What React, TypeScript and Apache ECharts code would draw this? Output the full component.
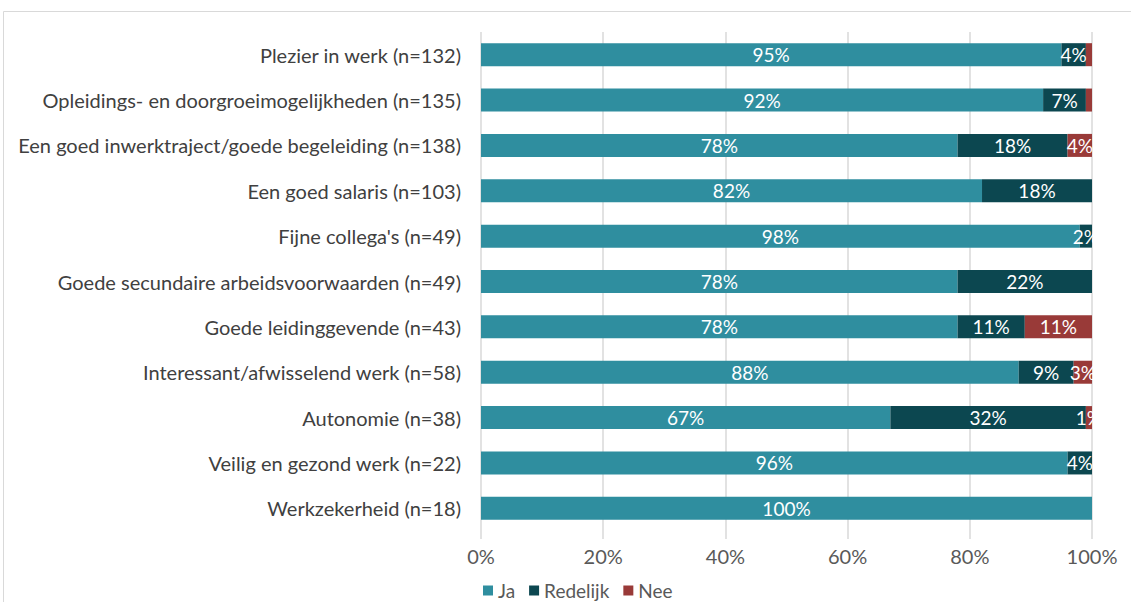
import React, { useEffect, useRef } from "react";
import * as echarts from "echarts";

const categories = [
  "Plezier in werk (n=132)",
  "Opleidings- en doorgroeimogelijkheden (n=135)",
  "Een goed inwerktraject/goede begeleiding (n=138)",
  "Een goed salaris (n=103)",
  "Fijne collega's (n=49)",
  "Goede secundaire arbeidsvoorwaarden (n=49)",
  "Goede leidinggevende (n=43)",
  "Interessant/afwisselend werk (n=58)",
  "Autonomie (n=38)",
  "Veilig en gezond werk (n=22)",
  "Werkzekerheid (n=18)",
];
const ja = [95, 92, 78, 82, 98, 78, 78, 88, 67, 96, 100];
const redelijk = [4, 7, 18, 18, 2, 22, 11, 9, 32, 4, 0];
const nee = [1, 1, 4, 0, 0, 0, 11, 3, 1, 0, 0];
const neeHiddenLabel = [true, true, false, false, false, false, false, false, false, false, false];
const xTicks = [0, 20, 40, 60, 80, 100];

const FONT = "Lato, 'Open Sans', sans-serif";
const FS = 20;

export default function App() {
  const ref = useRef<HTMLDivElement>(null);
  useEffect(() => {
    if (!ref.current) return;
    const chart = echarts.init(ref.current, undefined, { renderer: "svg" });
    const label = {
      show: true,
      position: "inside",
      color: "#ffffff",
      fontSize: 19,
      fontFamily: FONT,
      formatter: (p: any) => (p.value > 0 ? p.value + "%" : ""),
    };
    chart.setOption({
      animation: false,
      textStyle: { fontFamily: FONT },
      graphic: [
        {
          type: "rect",
          shape: { x: 3.5, y: 11.5, width: 1200, height: 700 },
          style: { fill: "none", stroke: "#d9d9d9", lineWidth: 1 },
          silent: true,
        },
      ],
      grid: { left: 481, right: 39, top: 32, bottom: 71, containLabel: false },
      legend: {
        left: 478,
        top: 576,
        itemWidth: 10,
        itemHeight: 10,
        itemGap: 14,
        icon: "rect",
        textStyle: { color: "#595959", fontSize: 19, fontFamily: FONT, lineHeight: 18 },
        data: ["Ja", "Redelijk", "Nee"],
      },
      xAxis: {
        type: "value",
        min: 0,
        max: 100,
        interval: 20,
        axisLine: { show: false },
        axisTick: { show: true, length: 8, lineStyle: { color: "#d9d9d9", width: 1.5 } },
        splitLine: { show: true, lineStyle: { color: "#d9d9d9", width: 1.5 } },
        axisLabel: {
          color: "#595959",
          fontSize: FS,
          margin: 15,
          fontFamily: FONT,
          formatter: (v: number) => (xTicks.includes(v) ? v + "%" : ""),
        },
      },
      yAxis: {
        type: "category",
        inverse: true,
        data: categories,
        axisLine: { show: false },
        axisTick: { show: false },
        axisLabel: { color: "#404040", fontSize: FS, margin: 20, fontFamily: FONT },
      },
      series: [
        {
          name: "Ja",
          type: "bar",
          stack: "t",
          barWidth: 23,
          itemStyle: { color: "#2F8E9F" },
          label,
          data: ja,
        },
        {
          name: "Redelijk",
          type: "bar",
          stack: "t",
          barWidth: 23,
          itemStyle: { color: "#0C4750" },
          label,
          data: redelijk,
        },
        {
          name: "Nee",
          type: "bar",
          stack: "t",
          barWidth: 23,
          itemStyle: { color: "#993A38" },
          label,
          data: nee.map((v, i) =>
            neeHiddenLabel[i] ? { value: v, label: { show: false } } : v
          ),
        },
      ],
    });
    return () => chart.dispose();
  }, []);
  return (
    <div
      ref={ref}
      style={{ position: "fixed", left: 0, top: 0, width: 1131, height: 602, background: "#fff" }}
    />
  );
}
